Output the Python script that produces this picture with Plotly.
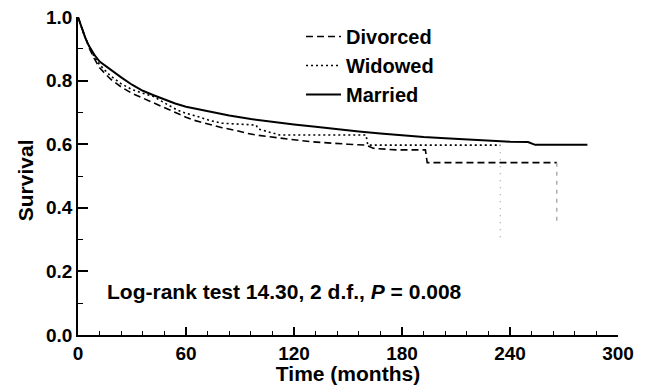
import plotly.graph_objects as go

# ---- data ----
married_t = [0, 2, 4, 6, 9, 12, 15, 18, 24, 30, 36, 42, 48, 54, 60, 72, 84, 96, 108, 120,
             132, 144, 156, 168, 180, 192, 204, 216, 228, 240, 250, 254, 283]
married_s = [1.0, 0.965, 0.935, 0.91, 0.882, 0.86, 0.847, 0.835, 0.81, 0.787, 0.768, 0.754,
             0.74, 0.728, 0.718, 0.703, 0.69, 0.679, 0.67, 0.662, 0.655, 0.647, 0.64, 0.634,
             0.628, 0.623, 0.619, 0.615, 0.611, 0.608, 0.607, 0.598, 0.598]

widowed_t = [0, 3, 6, 9, 12, 18, 24, 30, 36, 42, 48, 55, 60, 66, 73, 80, 90, 99, 100, 105,
             112, 160, 161, 234.6]
widowed_s = [1.0, 0.95, 0.91, 0.875, 0.85, 0.815, 0.79, 0.772, 0.76, 0.75, 0.73, 0.708,
             0.697, 0.688, 0.675, 0.666, 0.663, 0.66, 0.648, 0.64, 0.629, 0.629, 0.597, 0.597]
widowed_drop_t = [234.6, 234.6]
widowed_drop_s = [0.597, 0.30]

divorced_t = [0, 3, 6, 9, 12, 18, 24, 30, 36, 42, 48, 54, 60, 64, 72, 80, 88, 94, 100, 110,
              120, 129, 140, 150, 160, 164, 177, 193, 194, 266]
divorced_s = [1.0, 0.95, 0.905, 0.87, 0.84, 0.805, 0.78, 0.76, 0.745, 0.728, 0.715, 0.70,
              0.685, 0.676, 0.663, 0.652, 0.643, 0.634, 0.628, 0.62, 0.614, 0.608, 0.603,
              0.60, 0.597, 0.587, 0.582, 0.582, 0.542, 0.542]
divorced_drop_t = [266, 266]
divorced_drop_s = [0.542, 0.355]

x_ticks = [0, 60, 120, 180, 240, 300]
y_ticks = [0.0, 0.2, 0.4, 0.6, 0.8, 1.0]
y_tick_labels = ["0.0", "0.2", "0.4", "0.6", "0.8", "1.0"]

FONT = "Liberation Sans"

fig = go.Figure()
fig.add_trace(go.Scatter(x=divorced_t, y=divorced_s, mode="lines", name="Divorced",
                         line=dict(color="black", width=1.6, dash="7px,4px")))
fig.add_trace(go.Scatter(x=widowed_t, y=widowed_s, mode="lines", name="Widowed",
                         line=dict(color="black", width=1.6, dash="2px,3px")))
fig.add_trace(go.Scatter(x=married_t, y=married_s, mode="lines", name="Married",
                         line=dict(color="black", width=2)))
fig.add_trace(go.Scatter(x=widowed_drop_t, y=widowed_drop_s, mode="lines", showlegend=False,
                         line=dict(color="#9a9a9a", width=1.2, dash="1px,6px")))
fig.add_trace(go.Scatter(x=divorced_drop_t, y=divorced_drop_s, mode="lines", showlegend=False,
                         line=dict(color="#9a9a9a", width=1.2, dash="4px,5px")))

fig.add_annotation(x=15, y=0.138, xref="x", yref="y", xanchor="left", yanchor="middle",
                   text="Log-rank test 14.30, 2 d.f., <i>P</i> = 0.008", showarrow=False,
                   font=dict(family=FONT, size=21, color="black", weight="bold"))
fig.add_annotation(x=-0.098, y=0.487, xref="paper", yref="paper", xanchor="center",
                   yanchor="middle", text="Survival", textangle=-90, showarrow=False,
                   font=dict(family=FONT, size=21, color="black", weight="bold"))

# The page body has an 8px margin, so the figure is sized to fit inside the window.
fig.update_layout(
    width=638, height=377,
    margin=dict(l=70, r=28, t=9, b=50, autoexpand=False),
    paper_bgcolor="white", plot_bgcolor="white",
    font=dict(family=FONT, color="black"),
    legend=dict(x=0.413, y=1.0, xanchor="left", yanchor="top", bgcolor="rgba(0,0,0,0)",
                font=dict(family=FONT, size=20, color="black", weight="bold"),
                itemwidth=35, tracegroupgap=0),
    showlegend=True,
)
fig.update_xaxes(range=[0, 300], tickvals=x_ticks, ticks="inside", ticklen=8, tickwidth=1.5,
                 tickcolor="black", showline=True, linecolor="black", linewidth=1.5,
                 showgrid=False, zeroline=False, automargin=False, ticklabeloverflow="allow",
                 minor=dict(dtick=12, ticks="inside", ticklen=4, tickwidth=1, tickcolor="black",
                            showgrid=False),
                 tickfont=dict(family=FONT, size=19, color="black", weight="bold"),
                 title=dict(text="Time (months)", standoff=2,
                            font=dict(family=FONT, size=21, color="black", weight="bold")))
fig.update_yaxes(range=[0, 1.0], tickvals=y_ticks, ticktext=y_tick_labels, ticks="inside",
                 ticklen=10, tickwidth=1.5, tickcolor="black", showline=True, linecolor="black",
                 linewidth=1.5, showgrid=False, zeroline=False, automargin=False,
                 ticklabeloverflow="allow",
                 minor=dict(dtick=0.1, ticks="inside", ticklen=5, tickwidth=1, tickcolor="black",
                            showgrid=False),
                 tickfont=dict(family=FONT, size=19, color="black", weight="bold"))

fig.write_html("out.html")
